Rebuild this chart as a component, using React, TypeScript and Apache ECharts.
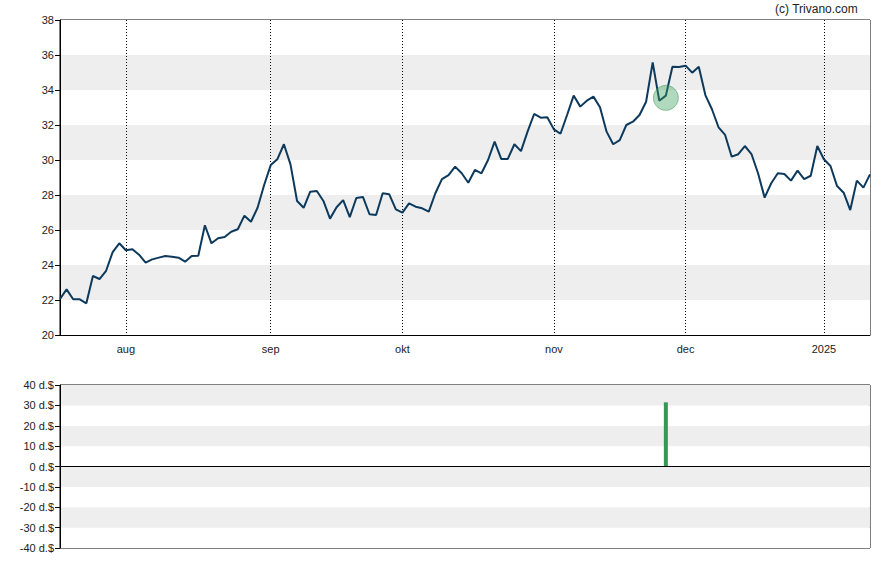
import React, { useEffect, useRef } from "react";
import * as echarts from "echarts";

const dates: string[] = [
  "2024-07-18","2024-07-19","2024-07-22","2024-07-23","2024-07-24","2024-07-25","2024-07-26","2024-07-29","2024-07-30","2024-07-31",
  "2024-08-01","2024-08-02","2024-08-05","2024-08-06","2024-08-07","2024-08-08","2024-08-09","2024-08-12","2024-08-13","2024-08-14",
  "2024-08-15","2024-08-16","2024-08-19","2024-08-20","2024-08-21","2024-08-22","2024-08-23","2024-08-26","2024-08-27","2024-08-28",
  "2024-08-29","2024-08-30",
  "2024-09-03","2024-09-04","2024-09-05","2024-09-06","2024-09-09","2024-09-10","2024-09-11","2024-09-12","2024-09-13","2024-09-16",
  "2024-09-17","2024-09-18","2024-09-19","2024-09-20","2024-09-23","2024-09-24","2024-09-25","2024-09-26","2024-09-27","2024-09-30",
  "2024-10-01","2024-10-02","2024-10-03","2024-10-04","2024-10-07","2024-10-08","2024-10-09","2024-10-10","2024-10-11","2024-10-14",
  "2024-10-15","2024-10-16","2024-10-17","2024-10-18","2024-10-21","2024-10-22","2024-10-23","2024-10-24","2024-10-25","2024-10-28",
  "2024-10-29","2024-10-30","2024-10-31",
  "2024-11-01","2024-11-04","2024-11-05","2024-11-06","2024-11-07","2024-11-08","2024-11-11","2024-11-12","2024-11-13","2024-11-14",
  "2024-11-15","2024-11-18","2024-11-19","2024-11-20","2024-11-21","2024-11-22","2024-11-25","2024-11-26","2024-11-27","2024-11-29",
  "2024-12-02","2024-12-03","2024-12-04","2024-12-05","2024-12-06","2024-12-09","2024-12-10","2024-12-11","2024-12-12","2024-12-13",
  "2024-12-16","2024-12-17","2024-12-18","2024-12-19","2024-12-20","2024-12-23","2024-12-24","2024-12-26","2024-12-27","2024-12-30",
  "2024-12-31",
  "2025-01-02","2025-01-03","2025-01-06","2025-01-07","2025-01-08","2025-01-10","2025-01-13","2025-01-14",
];

const prices: number[] = [
  22.06, 22.61, 22.04, 22.04, 21.81, 23.37, 23.2, 23.67, 24.74, 25.24,
  24.84, 24.9, 24.59, 24.13, 24.32, 24.42, 24.51, 24.47, 24.42, 24.19,
  24.51, 24.53, 26.27, 25.24, 25.53, 25.6, 25.9, 26.04, 26.82, 26.47,
  27.27, 28.57, 29.71, 30.04, 30.9, 29.75, 27.66, 27.27, 28.19, 28.23,
  27.66, 26.65, 27.3, 27.71, 26.74, 27.83, 27.89, 26.9, 26.86, 28.1,
  28.04, 27.18, 26.99, 27.52, 27.33, 27.24, 27.05, 28.1, 28.91, 29.14,
  29.62, 29.24, 28.7, 29.43, 29.24, 30.0, 31.05, 30.06, 30.06, 30.9,
  30.51, 31.62, 32.63, 32.42, 32.44, 31.75, 31.5, 32.57, 33.68, 33.05,
  33.39, 33.62, 33.01, 31.62, 30.9, 31.14, 32.0, 32.19, 32.57, 33.33,
  35.58, 33.39, 33.68, 35.33, 35.31, 35.39, 34.99, 35.33, 33.71, 32.9,
  31.87, 31.43, 30.19, 30.33, 30.8, 30.34, 29.24, 27.85, 28.67, 29.24,
  29.2, 28.82, 29.39, 28.91, 29.1, 30.8, 30.04, 29.66, 28.51, 28.13,
  27.14, 28.82, 28.42, 29.18,
];

// signal events: date, marker price, bar value (d.$)
const eventDates: string[] = ["2024-11-26"];
const eventMarkerPrices: number[] = [33.55];
const eventBarValues: number[] = [31.5];

const priceTicks = { min: 20, max: 38, interval: 2 };
const barTicks = { min: -40, max: 40, interval: 10 };
const monthNames: string[] = ["jan","feb","mar","apr","mai","jun","jul","aug","sep","okt","nov","dec"];

function isMonthStart(i: number): boolean {
  if (i === 0) return false;
  return dates[i].slice(0, 7) !== dates[i - 1].slice(0, 7);
}

function monthLabel(d: string): string {
  const m = parseInt(d.slice(5, 7), 10);
  if (m === 1) return d.slice(0, 4);
  return monthNames[m - 1];
}

export default function App() {
  const ref = useRef<HTMLDivElement>(null);

  useEffect(() => {
    document.body.style.margin = "0";
    if (!ref.current) return;
    const chart = echarts.init(ref.current, null, { renderer: "svg" });

    const barData = dates.map((d) => {
      const k = eventDates.indexOf(d);
      return k >= 0 ? eventBarValues[k] : null;
    });
    const markerData = eventDates.map((d, k) => [d, eventMarkerPrices[k]]);

    const font = "Liberation Sans, Arial, sans-serif";
    const bands = { show: true, areaStyle: { color: ["#ffffff", "#eeeeee"] } };

    chart.setOption({
      animation: false,
      backgroundColor: "#ffffff",
      graphic: [
        {
          type: "text",
          right: 30,
          top: 3,
          style: { text: "(c) Trivano.com", fontSize: 12, fontFamily: font, fill: "#222" },
        },
      ],
      grid: [
        { left: 60, right: 18, top: 20, height: 315, show: true, borderColor: "#000", borderWidth: 1, backgroundColor: "transparent" },
        { left: 60, right: 18, top: 385, height: 163, show: true, borderColor: "#000", borderWidth: 1, backgroundColor: "transparent" },
      ],
      xAxis: [
        {
          type: "category",
          gridIndex: 0,
          data: dates,
          boundaryGap: false,
          axisLine: { lineStyle: { color: "#000" } },
          axisTick: { show: false },
          axisLabel: {
            interval: (i: number) => isMonthStart(i),
            formatter: (v: string) => monthLabel(v),
            color: "#222",
            fontSize: 11,
            fontFamily: font,
            margin: 8,
          },
          splitLine: {
            show: true,
            interval: (i: number) => isMonthStart(i),
            lineStyle: { color: "#000", type: [1, 2], width: 1 },
          },
        },
        {
          type: "category",
          gridIndex: 1,
          data: dates,
          boundaryGap: false,
          axisLine: { show: false },
          axisTick: { show: false },
          axisLabel: { show: false },
          splitLine: { show: false },
        },
      ],
      yAxis: [
        {
          type: "value",
          gridIndex: 0,
          min: priceTicks.min,
          max: priceTicks.max,
          interval: priceTicks.interval,
          axisLine: { show: true, lineStyle: { color: "#000" } },
          axisTick: { show: true, length: 5, lineStyle: { color: "#000" } },
          axisLabel: { color: "#222", fontSize: 11, fontFamily: font, margin: 6 },
          splitLine: { show: false },
          splitArea: bands,
        },
        {
          type: "value",
          gridIndex: 1,
          min: barTicks.min,
          max: barTicks.max,
          interval: barTicks.interval,
          axisLine: { show: true, onZero: false, lineStyle: { color: "#000" } },
          axisTick: { show: true, length: 5, lineStyle: { color: "#000" } },
          axisLabel: {
            color: "#222",
            fontSize: 11,
            fontFamily: font,
            margin: 6,
            formatter: (v: number) => `${v} d.$`,
          },
          splitLine: { show: false },
          splitArea: bands,
        },
      ],
      series: [
        {
          type: "line",
          xAxisIndex: 0,
          yAxisIndex: 0,
          data: prices,
          symbol: "none",
          lineStyle: { color: "#0d3a5c", width: 2 },
          z: 3,
        },
        {
          type: "scatter",
          xAxisIndex: 0,
          yAxisIndex: 0,
          data: markerData,
          symbol: "circle",
          symbolSize: 25,
          itemStyle: { color: "rgba(60,160,90,0.5)", borderColor: "rgba(50,140,80,0.6)", borderWidth: 1 },
          z: 4,
        },
        {
          type: "bar",
          xAxisIndex: 1,
          yAxisIndex: 1,
          data: barData,
          barWidth: 4,
          itemStyle: { color: "#339955" },
          markLine: {
            silent: true,
            symbol: "none",
            label: { show: false },
            lineStyle: { color: "#000", type: "solid", width: 1 },
            data: [{ yAxis: 0 }],
          },
        },
      ],
    });

    return () => chart.dispose();
  }, []);

  return <div ref={ref} style={{ width: 888, height: 565 }} />;
}
